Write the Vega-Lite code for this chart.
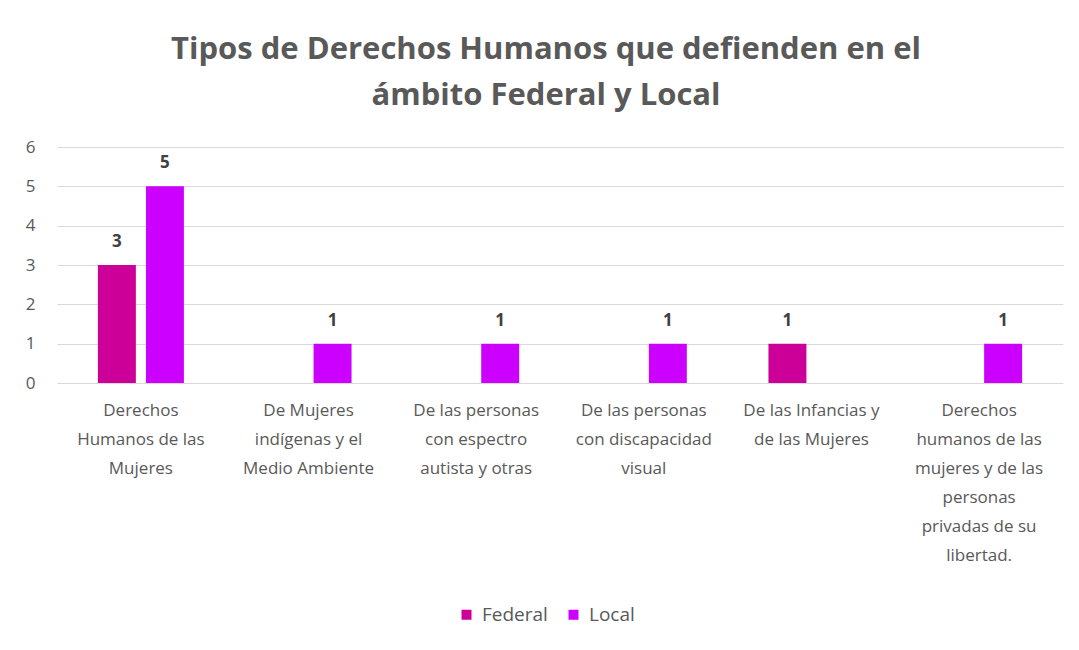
{
  "$schema": "https://vega.github.io/schema/vega-lite/v6.json",
  "width": 1006,
  "height": 236,
  "autosize": {"type": "none"},
  "padding": {"left": 57, "top": 147, "right": 16, "bottom": 267},
  "background": "white",
  "title": {
    "text": ["Tipos de Derechos Humanos que defienden en el", "ámbito Federal y Local"],
    "font": "Open Sans",
    "fontSize": 31,
    "fontWeight": "bold",
    "color": "#595959",
    "lineHeight": 46,
    "anchor": "middle",
    "dx": -14,
    "offset": 26
  },
  "data": {
    "values": [
      {"categoria": "Derechos Humanos de las Mujeres", "tipo": "Federal", "valor": 3},
      {"categoria": "Derechos Humanos de las Mujeres", "tipo": "Local", "valor": 5},
      {"categoria": "De Mujeres indígenas y el Medio Ambiente", "tipo": "Federal", "valor": 0},
      {"categoria": "De Mujeres indígenas y el Medio Ambiente", "tipo": "Local", "valor": 1},
      {"categoria": "De las personas con espectro autista y otras", "tipo": "Federal", "valor": 0},
      {"categoria": "De las personas con espectro autista y otras", "tipo": "Local", "valor": 1},
      {"categoria": "De las personas con discapacidad visual", "tipo": "Federal", "valor": 0},
      {"categoria": "De las personas con discapacidad visual", "tipo": "Local", "valor": 1},
      {"categoria": "De las Infancias y de las Mujeres", "tipo": "Federal", "valor": 1},
      {"categoria": "De las Infancias y de las Mujeres", "tipo": "Local", "valor": 0},
      {"categoria": "Derechos humanos de las mujeres y de las personas privadas de su libertad.", "tipo": "Federal", "valor": 0},
      {"categoria": "Derechos humanos de las mujeres y de las personas privadas de su libertad.", "tipo": "Local", "valor": 1}
    ]
  },
  "encoding": {
    "x": {
      "field": "categoria",
      "type": "nominal",
      "sort": null,
      "title": null,
      "scale": {"paddingInner": 0.487, "paddingOuter": 0.244},
      "axis": {
        "labelAngle": 0,
        "domain": false,
        "ticks": false,
        "labelPadding": 19,
        "labelFont": "Open Sans",
        "labelFontSize": 17,
        "labelColor": "#595959",
        "labelLineHeight": 29,
        "labelLimit": 0,
        "labelOverlap": false,
        "labelExpr": "{'Derechos Humanos de las Mujeres': ['Derechos', 'Humanos de las', 'Mujeres'], 'De Mujeres indígenas y el Medio Ambiente': ['De Mujeres', 'indígenas y el', 'Medio Ambiente'], 'De las personas con espectro autista y otras': ['De las personas', 'con espectro', 'autista y otras'], 'De las personas con discapacidad visual': ['De las personas', 'con discapacidad', 'visual'], 'De las Infancias y de las Mujeres': ['De las Infancias y', 'de las Mujeres'], 'Derechos humanos de las mujeres y de las personas privadas de su libertad.': ['Derechos', 'humanos de las', 'mujeres y de las', 'personas', 'privadas de su', 'libertad.']}[datum.value]"
      }
    },
    "xOffset": {
      "field": "tipo",
      "type": "nominal",
      "scale": {"domain": ["Federal", "Local"], "paddingInner": 0.21, "paddingOuter": 0}
    },
    "y": {
      "field": "valor",
      "type": "quantitative",
      "title": null,
      "scale": {"domain": [0, 6], "nice": false},
      "axis": {
        "values": [0, 1, 2, 3, 4, 5, 6],
        "labelOverlap": false,
        "domain": false,
        "ticks": false,
        "labelPadding": 22,
        "labelFont": "Open Sans",
        "labelFontSize": 17,
        "labelColor": "#595959",
        "gridColor": "#d9d9d9",
        "gridWidth": 1
      }
    }
  },
  "layer": [
    {
      "mark": {"type": "bar"},
      "encoding": {
        "color": {
          "field": "tipo",
          "type": "nominal",
          "title": null,
          "scale": {"domain": ["Federal", "Local"], "range": ["#CC0099", "#CC00FF"]},
          "legend": {
            "orient": "none",
            "legendX": 400,
            "legendY": 458,
            "direction": "horizontal",
            "symbolType": "square",
            "symbolSize": 100,
            "labelFont": "Open Sans",
            "labelFontSize": 19,
            "labelColor": "#595959",
            "columnPadding": 16,
            "labelOffset": 6
          }
        }
      }
    },
    {
      "transform": [{"filter": "datum.valor > 0"}],
      "mark": {
        "type": "text",
        "baseline": "alphabetic",
        "dy": -18,
        "font": "Open Sans",
        "fontSize": 17,
        "fontWeight": "bold",
        "color": "#404040"
      },
      "encoding": {
        "text": {"field": "valor", "type": "quantitative"}
      }
    }
  ],
  "config": {
    "view": {"stroke": null}
  }
}
